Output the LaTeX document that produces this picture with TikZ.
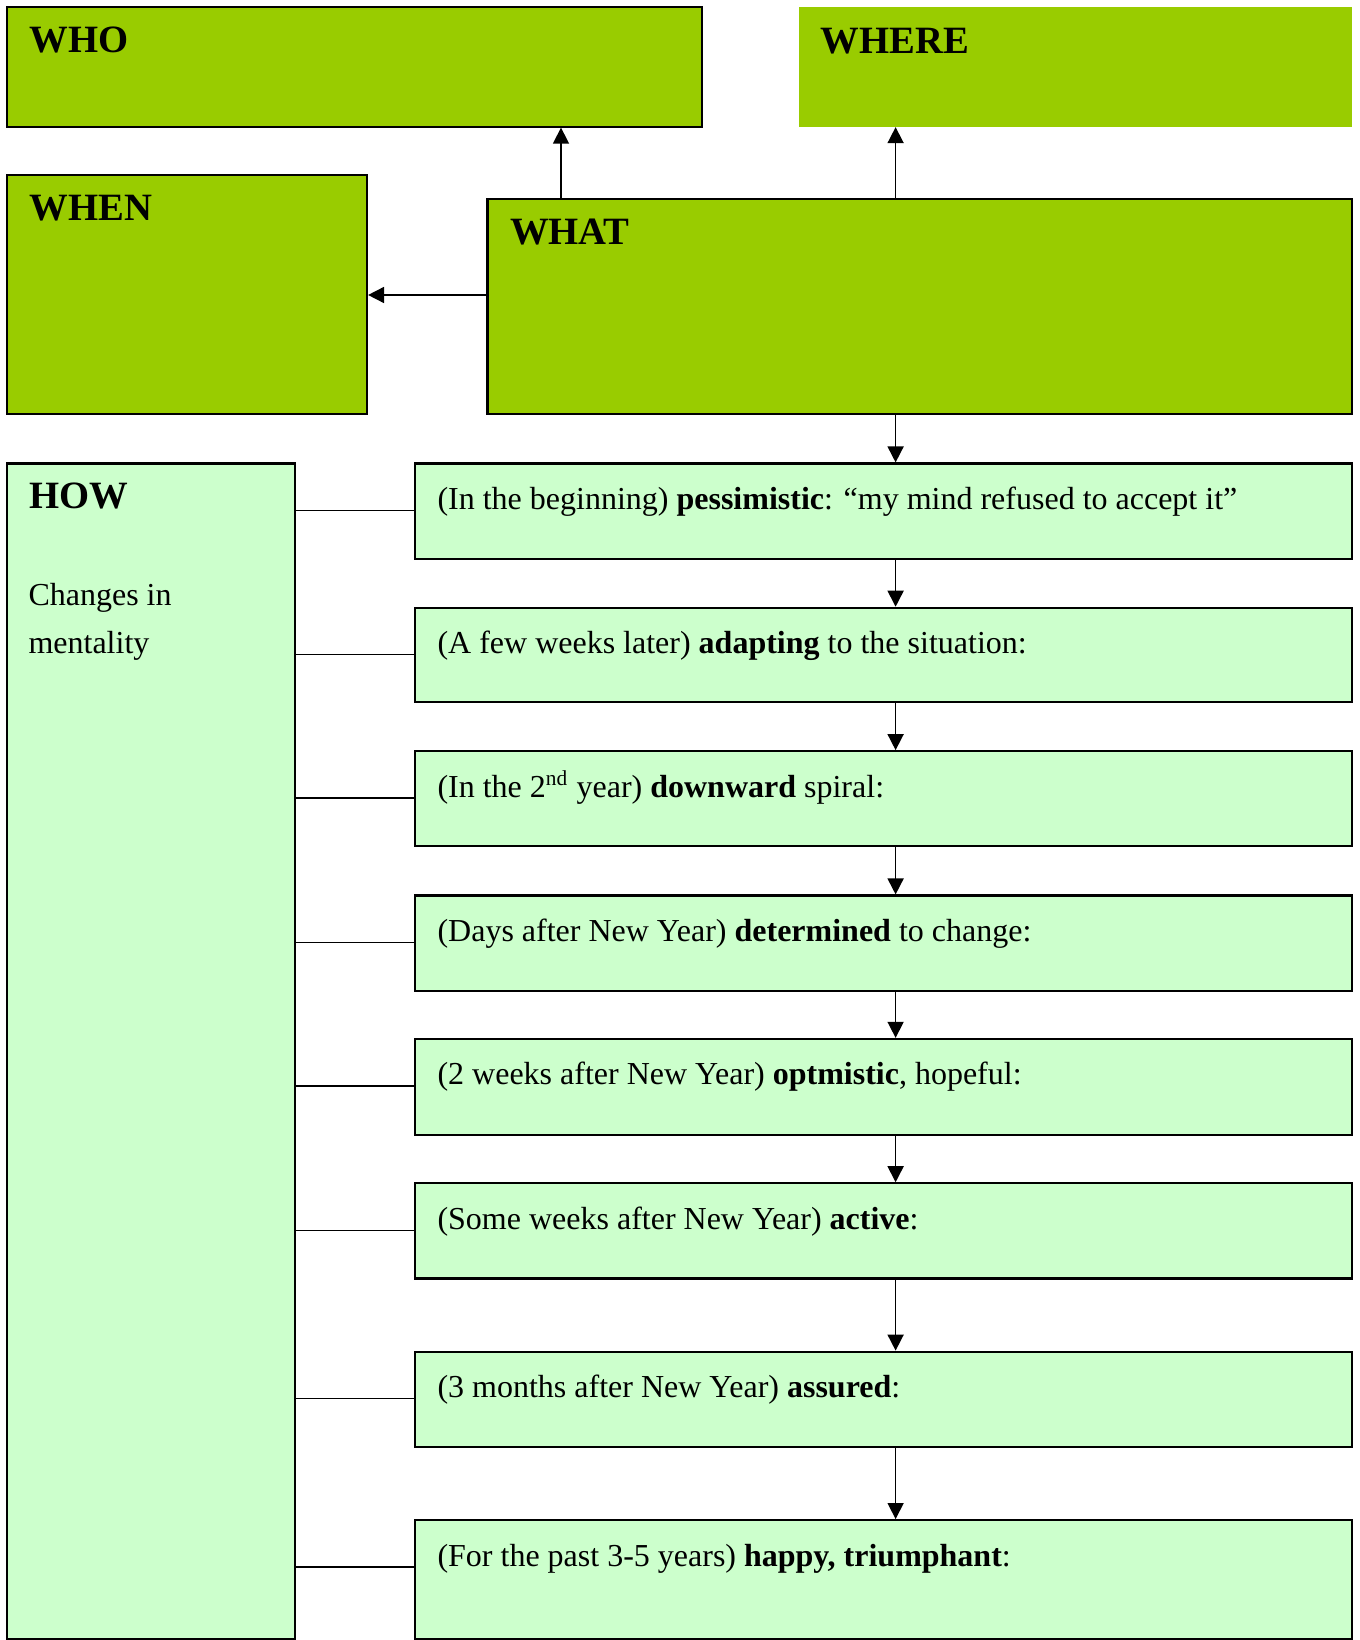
\documentclass[tikz,border=0pt]{standalone}
\usepackage{fontspec}
\setmainfont{Liberation Serif}
\usetikzlibrary{arrows.meta,fit,calc}
\definecolor{darkg}{HTML}{99CC00}
\definecolor{lightg}{HTML}{CCFFCC}
\begin{document}
\begin{tikzpicture}[x=0.375pt,y=-0.375pt,
  darkbox/.style={rectangle,draw=black,line width=0.8pt,fill=darkg,inner sep=0pt},
  plainbox/.style={rectangle,draw=none,fill=darkg,inner sep=0pt},
  lightbox/.style={rectangle,draw=black,line width=0.8pt,fill=lightg,inner sep=0pt},
  head/.style={anchor=base west,inner sep=0pt,font=\fontsize{14.5}{17}\selectfont\bfseries},
  body/.style={anchor=base west,inner sep=0pt,font=\fontsize{12}{18}\selectfont},
  arr/.style={line width=0.6pt,-{Triangle[length=6pt,width=6pt]}},
  link/.style={line width=0.5pt}
]
\useasboundingbox (0,0) rectangle (1359,1640);
% top boxes
\node[darkbox, fit={(7.3,7.3) (702,126.6)}] (who) {};
\node[plainbox, fit={(799,7.3) (1352,126.6)}] (where) {};
\node[darkbox, fit={(7.3,174.7) (367,414)}] (when) {};
\node[darkbox, fit={(487.5,198.8) (1352,414)}] (what) {};
\node[head] (whot) at (29,53) {WHO};
\node[head] (wheret) at (820,53.5) {WHERE};
\node[head] (whent) at (29,221) {WHEN};
\node[head] (whatt) at (509.5,245) {WHAT};
% HOW box
\node[lightbox, fit={(7.3,463.5) (295,1638.7)}] (how) {};
\node[head] (howt) at (29,508.5) {HOW};
\node[body] (howa) at (28,605) {Changes in};
\node[body] (howb) at (28,653) {mentality};
% right boxes
\node[lightbox, fit={(415,463.5) (1352,558.7)}] (b1) {};
\node[lightbox, fit={(415,607.8) (1352,702)}] (b2) {};
\node[lightbox, fit={(415,751.2) (1352,846.4)}] (b3) {};
\node[lightbox, fit={(415,895.5) (1352,990.8)}] (b4) {};
\node[lightbox, fit={(415,1038.9) (1352,1135.1)}] (b5) {};
\node[lightbox, fit={(415,1183.3) (1352,1278.5)}] (b6) {};
\node[lightbox, fit={(415,1351.7) (1352,1446.9)}] (b7) {};
\node[lightbox, fit={(415,1520.1) (1352,1638.7)}] (b8) {};
\node[body] (t1) at (437,509.5) {(In the beginning) \textbf{pessimistic}: “my mind refused to accept it”};
\node[body] (t2) at (437,653.8) {(A few weeks later) \textbf{adapting} to the situation:};
\node[body] (t3) at (437,797.2) {(In the 2\textsuperscript{nd} year) \textbf{downward} spiral:};
\node[body] (t4) at (437,941.5) {(Days after New Year) \textbf{determined} to change:};
\node[body] (t5) at (437,1084.9) {(2 weeks after New Year) \textbf{optmistic}, hopeful:};
\node[body] (t6) at (437,1229.3) {(Some weeks after New Year) \textbf{active}:};
\node[body] (t7) at (437,1397.7) {(3 months after New Year) \textbf{assured}:};
\node[body] (t8) at (437,1566.1) {(For the past 3-5 years) \textbf{happy, triumphant}:};
% arrows from WHAT
\coordinate (ax) at (895.6,0);
\coordinate (wx) at (561,0);
\coordinate (wy) at (0,295);
\draw[arr] (what.north -| wx) -- (who.south -| wx);
\draw[arr] (what.north -| ax) -- (where.south -| ax);
\draw[arr] (what.west |- wy) -- (when.east |- wy);
\draw[arr] (what.south -| ax) -- (b1.north -| ax);
% chain arrows
\draw[arr] (b1.south -| ax) -- (b2.north -| ax);
\draw[arr] (b2.south -| ax) -- (b3.north -| ax);
\draw[arr] (b3.south -| ax) -- (b4.north -| ax);
\draw[arr] (b4.south -| ax) -- (b5.north -| ax);
\draw[arr] (b5.south -| ax) -- (b6.north -| ax);
\draw[arr] (b6.south -| ax) -- (b7.north -| ax);
\draw[arr] (b7.south -| ax) -- (b8.north -| ax);
% HOW connectors
\foreach \i in {1,...,8} {
  \coordinate (c\i) at ($(b\i.north west)+(0,48)$);
  \draw[link] (c\i -| how.east) -- (c\i);
}
\end{tikzpicture}
\end{document}
